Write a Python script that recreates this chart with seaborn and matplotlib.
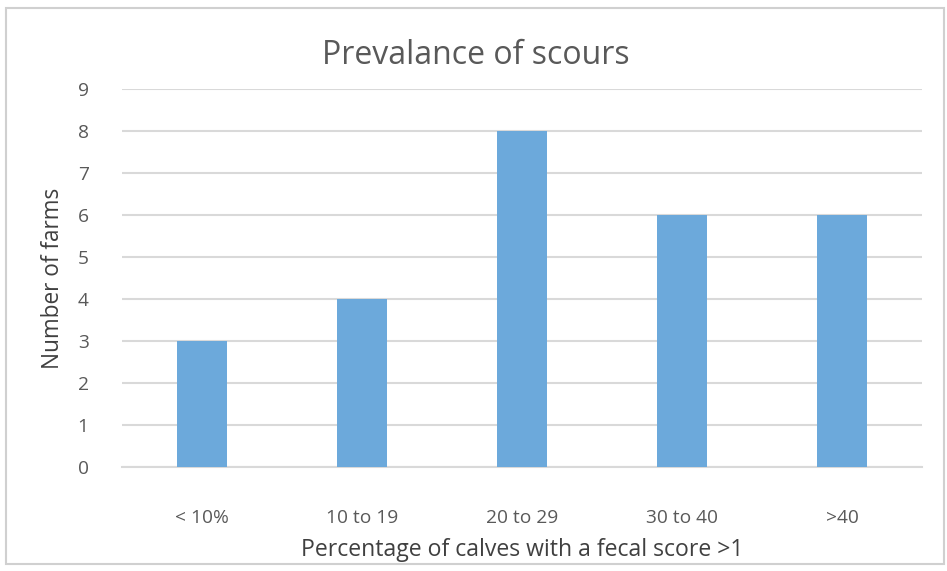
import matplotlib
matplotlib.use("Agg")
import matplotlib.pyplot as plt
import seaborn as sns
import pandas as pd
from matplotlib.patches import Rectangle

categories = ["< 10%", "10 to 19", "20 to 29", "30 to 40", ">40"]
farms = [3, 4, 8, 6, 6]
yticks = list(range(0, 10))

sns.set_theme(style="white")
plt.rcParams['font.family'] = ['Open Sans', 'DejaVu Sans']

W, H = 947, 571
fig = plt.figure(figsize=(W / 100, H / 100), dpi=100)
ax = fig.add_axes([122 / W, 1 - 467 / H, 800 / W, 378 / H])

df = pd.DataFrame({"cat": categories, "farms": farms})
sns.barplot(data=df, x="cat", y="farms", color="#6CA9DB", saturation=1,
            width=0.3125, ax=ax, zorder=3, linewidth=0)

ax.set_ylim(0, 9)
ax.set_xlim(-0.5, len(categories) - 0.5)
ax.set_yticks(yticks)
ax.yaxis.grid(True, color="#d9d9d9", linewidth=1.5, zorder=0)
ax.set_axisbelow(True)
for s in ["top", "right", "left"]:
    ax.spines[s].set_visible(False)
ax.spines["bottom"].set_color("#d9d9d9")
ax.spines["bottom"].set_linewidth(1.5)
ax.tick_params(axis="both", length=0, colors="#595959", labelsize=13.8)
ax.tick_params(axis="x", pad=30)
ax.tick_params(axis="y", pad=24)

ax.set_xlabel("Percentage of calves with a fecal score >1", fontsize=16.6,
              color="#404040", labelpad=8)
ax.set_ylabel("Number of farms", fontsize=16.3, color="#404040", labelpad=9)
fig.text(476 / W, 1 - 55 / H, "Prevalance of scours", ha="center", va="center",
         fontsize=23, color="#595959")

fig.patches.append(Rectangle((6 / W, 1 - 564 / H), 938 / W, 556 / H,
                             transform=fig.transFigure, fill=False,
                             edgecolor="#d0d0d0", linewidth=1.5))

fig.savefig("out.png", dpi=100)
